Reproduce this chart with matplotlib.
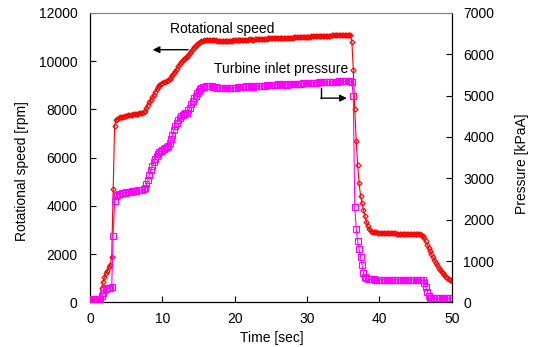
import numpy as np
import matplotlib
matplotlib.use("Agg")
import matplotlib.pyplot as plt

plt.rcParams['font.family'] = ['Liberation Sans', 'DejaVu Sans']

# time axis: samples every 0.2 s from 0 to 50 s
time_s = np.round(np.arange(251) * 0.2, 1)

# Rotational speed [rpm]
speed_rpm = [
    100, 100, 100, 100, 100, 100, 100, 110, 600, 850,
    1050, 1200, 1320, 1450, 1570, 1900, 4700, 7300, 7560, 7620,
    7650, 7670, 7690, 7700, 7720, 7740, 7755, 7765, 7775, 7785,
    7795, 7805, 7815, 7825, 7835, 7845, 7860, 7890, 7950, 8050,
    8170, 8290, 8400, 8500, 8600, 8720, 8830, 8920, 8990, 9040,
    9090, 9120, 9140, 9160, 9200, 9270, 9350, 9430, 9510, 9590,
    9680, 9780, 9890, 9970, 10030, 10070, 10110, 10160, 10240, 10330,
    10420, 10500, 10570, 10640, 10700, 10760, 10800, 10830, 10850, 10860,
    10870, 10880, 10880, 10870, 10880, 10880, 10870, 10860, 10850, 10840,
    10830, 10830, 10820, 10820, 10820, 10830, 10830, 10840, 10850, 10860,
    10860, 10870, 10870, 10860, 10860, 10870, 10880, 10880, 10890, 10890,
    10900, 10900, 10890, 10890, 10900, 10900, 10910, 10910, 10920, 10920,
    10920, 10930, 10930, 10940, 10940, 10940, 10950, 10950, 10950, 10950,
    10960, 10960, 10960, 10970, 10970, 10960, 10960, 10960, 10970, 10970,
    10970, 10980, 10980, 10980, 10980, 10990, 10990, 10990, 10990, 11000,
    11000, 11010, 11010, 11020, 11020, 11020, 11030, 11030, 11030, 11030,
    11040, 11040, 11040, 11050, 11050, 11050, 11050, 11060, 11060, 11060,
    11060, 11070, 11070, 11070, 11080, 11080, 11080, 11080, 11090, 11090,
    11090, 10800, 9640, 8000, 6700, 5700, 4940, 4420, 4110, 3830,
    3560, 3330, 3150, 3030, 2960, 2930, 2920, 2910, 2900, 2895,
    2890, 2885, 2880, 2880, 2875, 2870, 2870, 2865, 2860, 2860,
    2855, 2855, 2850, 2850, 2850, 2845, 2845, 2840, 2840, 2840,
    2835, 2835, 2830, 2830, 2830, 2825, 2825, 2820, 2815, 2800,
    2740, 2650, 2530, 2390, 2250, 2110, 1990, 1870, 1750, 1640,
    1540, 1440, 1350, 1270, 1200, 1130, 1070, 1010, 960, 920,
    890,
]

# Turbine inlet pressure [kPaA]
pressure_kpa = [
    85, 85, 85, 85, 85, 85, 85, 90, 150, 220,
    300, 330, 340, 345, 350, 380, 1600, 2450, 2560, 2590,
    2610, 2625, 2635, 2645, 2655, 2660, 2670, 2675, 2680, 2685,
    2690, 2695, 2700, 2705, 2710, 2715, 2720, 2730, 2760, 2850,
    2960, 3080, 3200, 3300, 3390, 3470, 3540, 3590, 3630, 3660,
    3680, 3700, 3720, 3750, 3790, 3850, 3940, 4050, 4160, 4260,
    4340, 4410, 4460, 4500, 4530, 4550, 4570, 4590, 4640, 4710,
    4790, 4860, 4930, 5000, 5060, 5110, 5150, 5180, 5200, 5210,
    5220, 5230, 5230, 5230, 5220, 5210, 5200, 5200, 5190, 5190,
    5180, 5180, 5180, 5180, 5190, 5190, 5190, 5180, 5180, 5180,
    5190, 5190, 5200, 5200, 5200, 5210, 5210, 5210, 5220, 5220,
    5220, 5220, 5210, 5210, 5220, 5220, 5230, 5230, 5230, 5240,
    5240, 5240, 5250, 5250, 5250, 5250, 5260, 5260, 5260, 5260,
    5270, 5270, 5270, 5270, 5270, 5260, 5260, 5270, 5270, 5280,
    5280, 5280, 5290, 5290, 5290, 5290, 5290, 5300, 5300, 5300,
    5300, 5300, 5310, 5310, 5310, 5310, 5310, 5310, 5320, 5320,
    5320, 5320, 5320, 5320, 5330, 5330, 5330, 5330, 5330, 5330,
    5330, 5330, 5340, 5340, 5340, 5340, 5340, 5340, 5340, 5340,
    5340, 5330, 4990, 2300, 1780, 1480, 1290, 1100, 900, 720,
    620, 580, 565, 560, 555, 555, 555, 550, 550, 550,
    550, 550, 550, 550, 550, 550, 550, 550, 550, 550,
    550, 550, 550, 550, 550, 550, 550, 550, 550, 550,
    550, 550, 550, 550, 550, 550, 550, 550, 550, 545,
    540, 480, 380, 260, 150, 105, 100, 100, 100, 100,
    100, 100, 100, 100, 100, 100, 100, 100, 100, 100,
    100,
]

left_ticks = [0, 2000, 4000, 6000, 8000, 10000, 12000]
right_ticks = [0, 1000, 2000, 3000, 4000, 5000, 6000, 7000]
x_ticks = [0, 10, 20, 30, 40, 50]

FS = 10
W, H = 534, 347
fig = plt.figure(figsize=(W / 100, H / 100), dpi=100)
L, R, B, T = 90, 451.7, 302.4, 12.8
ax = fig.add_axes([L / W, 1 - B / H, (R - L) / W, (B - T) / H])
ax2 = ax.twinx()

ax.plot(time_s, speed_rpm, color='#FF0000', lw=0.8, marker='D', ms=2.6,
        mfc='none', mec='#FF0000', mew=0.8)
ax2.plot(time_s, pressure_kpa, color='#FF00FF', lw=0.8, marker='s', ms=3.8,
         mfc='none', mec='#FF00FF', mew=0.8)

ax.set_xlim(0, 50)
ax.set_ylim(0, 12000)
ax2.set_ylim(0, 7000)
ax.set_xticks(x_ticks)
ax.set_yticks(left_ticks)
ax2.set_yticks(right_ticks)

ax.tick_params(axis='both', direction='in', length=4, width=0.8, labelsize=FS)
ax.tick_params(axis='y', pad=9)
ax.tick_params(axis='x', pad=7)
ax2.tick_params(axis='y', direction='in', length=4, width=0.8, labelsize=FS, pad=8.4)

for a in (ax, ax2):
    for s in a.spines.values():
        s.set_linewidth(0.9)
        s.set_color('black')
ax.spines['right'].set_visible(False)
ax2.spines['left'].set_visible(False)
ax2.spines['bottom'].set_visible(False)
ax.spines['top'].set_visible(False)
ax2.spines['top'].set_color('#808080')
ax2.spines['top'].set_linewidth(0.8)

ax.text(-0.189, 0.455, 'Rotational speed [rpm]', transform=ax.transAxes,
        rotation=90, ha='center', va='center', fontsize=FS)
ax.text(1.1935, 0.478, 'Pressure [kPaA]', transform=ax.transAxes,
        rotation=90, ha='center', va='center', fontsize=FS)
ax.text(0.503, -0.123, 'Time [sec]', transform=ax.transAxes,
        ha='center', va='center', fontsize=FS)

# annotations (left-axis data coordinates)
ax.text(18.3, 11325, 'Rotational speed', ha='center', va='center', fontsize=FS)
ax.annotate('', xy=(8.67, 10470), xytext=(13.55, 10470),
            arrowprops=dict(arrowstyle='-|>', color='black', lw=1.0,
                            mutation_scale=10, shrinkA=0, shrinkB=0))
ax.text(26.4, 9670, 'Turbine inlet pressure', ha='center', va='center', fontsize=FS)
ax.plot([31.9, 31.9], [8890, 8465], color='black', lw=1.0)
ax.annotate('', xy=(35.5, 8465), xytext=(31.9, 8465),
            arrowprops=dict(arrowstyle='-|>', color='black', lw=1.0,
                            mutation_scale=10, shrinkA=0, shrinkB=0))

fig.savefig('out.png', dpi=100)
